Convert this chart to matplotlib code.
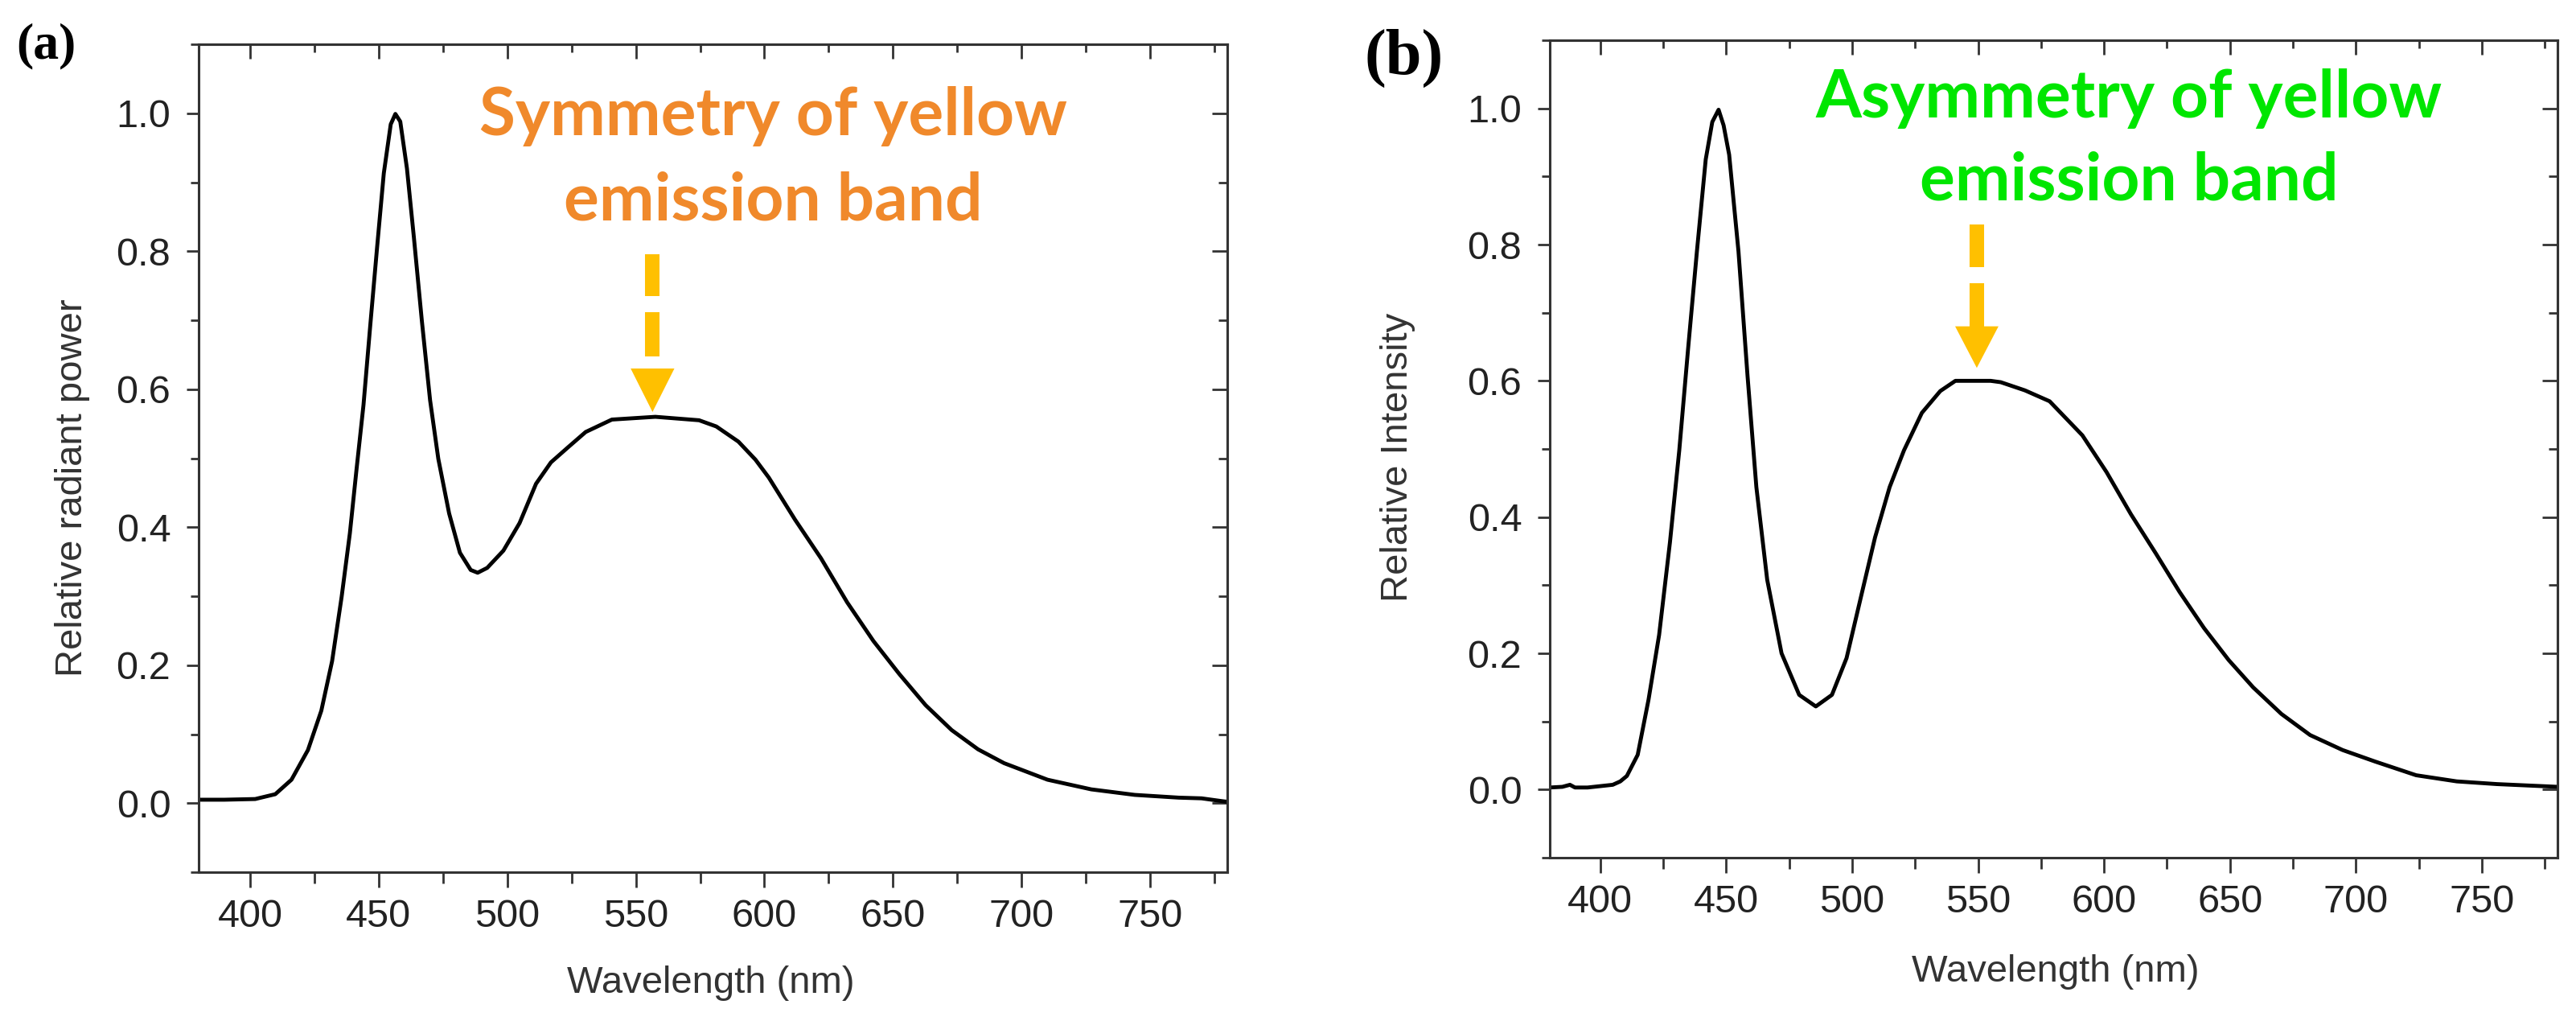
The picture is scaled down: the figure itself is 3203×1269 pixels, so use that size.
import numpy as np
import matplotlib
matplotlib.use("Agg")
import matplotlib.pyplot as plt
from matplotlib.ticker import MultipleLocator, FormatStrFormatter

# panel (a): spectrum
wl_a = [380, 390, 402, 409.8, 416.1, 422.5, 427.7, 431.9, 435.6, 438.8, 441.4, 444.1,
        446.7, 449.4, 452, 454.7, 456.5, 458.4, 461, 463.7, 466.8, 470, 473.2, 477.4,
        481.6, 485.8, 488.5, 492.2, 498.5, 504.8, 511.2, 517, 523.7, 530.5, 540.7,
        557.6, 574.6, 581.3, 589.9, 596.5, 601.7, 611.9, 622, 632.2, 642.4, 652.5,
        662.7, 672.8, 683.1, 693.2, 710.1, 727.1, 744, 761.1, 770, 777.8, 780]
rp_a = [0.005, 0.005, 0.006, 0.013, 0.034, 0.077, 0.134, 0.206, 0.299, 0.391, 0.484,
        0.577, 0.691, 0.806, 0.913, 0.984, 0.999, 0.988, 0.92, 0.82, 0.699, 0.584,
        0.499, 0.42, 0.363, 0.338, 0.334, 0.341, 0.366, 0.406, 0.463, 0.494, 0.516,
        0.538, 0.556, 0.560, 0.555, 0.546, 0.524, 0.498, 0.472, 0.411, 0.355, 0.291,
        0.235, 0.187, 0.142, 0.106, 0.078, 0.058, 0.034, 0.02, 0.012, 0.008, 0.007,
        0.003, 0.002]

# panel (b)
wl_b = [380, 385, 388, 390, 395, 400, 405, 408, 410.6, 414.9, 419.2, 423.4, 427.7,
        431.4, 434.9, 438.4, 441.9, 444.5, 447, 449, 451.2, 454.9, 458.5, 462, 466.3,
        472, 479, 485.6, 492, 497.8, 503.4, 509.1, 514.9, 520.6, 527.7, 535, 541, 548,
        555, 559, 568.6, 578.4, 591.4, 601, 610.7, 620.5, 630, 639.7, 649.5, 659.2,
        670.4, 681.8, 694.7, 707.7, 723.9, 740, 756, 780]
ri_b = [0.003, 0.004, 0.007, 0.003, 0.003, 0.005, 0.007, 0.012, 0.02, 0.051, 0.132,
        0.227, 0.363, 0.498, 0.647, 0.79, 0.925, 0.98, 0.998, 0.975, 0.932, 0.79,
        0.607, 0.444, 0.308, 0.2, 0.139, 0.122, 0.139, 0.193, 0.281, 0.37, 0.444,
        0.498, 0.553, 0.585, 0.6, 0.6, 0.6, 0.598, 0.586, 0.57, 0.52, 0.466, 0.404,
        0.347, 0.29, 0.237, 0.19, 0.15, 0.111, 0.08, 0.058, 0.041, 0.021, 0.012,
        0.008, 0.004]

labels_a = ["Symmetry of yellow", "emission band"]
labels_b = ["Asymmetry of yellow", "emission band"]

plt.rcParams['font.family'] = ['Liberation Sans', 'DejaVu Sans']

W, H = 3203, 1269
fig = plt.figure(figsize=(W / 100, H / 100), dpi=100)


def px_axes(l, t, r, b):
    return fig.add_axes([l / W, 1 - b / H, (r - l) / W, (b - t) / H])


def style(ax):
    ax.set_xlim(380, 780)
    ax.set_ylim(-0.1, 1.1)
    ax.xaxis.set_major_locator(MultipleLocator(50))
    ax.xaxis.set_minor_locator(MultipleLocator(25))
    ax.yaxis.set_major_locator(MultipleLocator(0.2))
    ax.yaxis.set_minor_locator(MultipleLocator(0.1))
    ax.yaxis.set_major_formatter(FormatStrFormatter('%.1f'))
    ax.tick_params(which='both', direction='out', width=2, colors='#333333',
                   labelcolor='#222222', labelsize=35)
    ax.tick_params(axis='x', which='major', length=14, pad=10)
    ax.tick_params(axis='x', which='minor', length=10)
    ax.tick_params(axis='y', which='major', length=11, pad=14)
    ax.tick_params(axis='y', which='minor', length=7)
    for s in ax.spines.values():
        s.set_linewidth(2.2)
        s.set_color('#333333')
    top = ax.secondary_xaxis('top')
    top.xaxis.set_major_locator(MultipleLocator(50))
    top.xaxis.set_minor_locator(MultipleLocator(25))
    top.tick_params(which='both', direction='in', width=2, colors='#333333',
                    labeltop=False)
    top.tick_params(which='major', length=13)
    top.tick_params(which='minor', length=7)
    top.spines['top'].set_linewidth(2.2)
    right = ax.secondary_yaxis('right')
    right.yaxis.set_major_locator(MultipleLocator(0.2))
    right.yaxis.set_minor_locator(MultipleLocator(0.1))
    right.tick_params(which='both', direction='in', width=2, colors='#333333',
                      labelright=False)
    right.tick_params(which='major', length=14)
    right.tick_params(which='minor', length=8)
    right.spines['right'].set_linewidth(2.2)


def arrow(ax, x, segs, head, hw, color='#FFC000'):
    for y0, y1 in segs:
        ax.plot([x, x], [y0, y1], color=color, lw=13, solid_capstyle='butt')
    ax.fill([x - hw, x + hw, x], [head[0], head[0], head[1]], color=color, lw=0)


txt_kw = dict(family=['Lato', 'DejaVu Sans'], weight='bold', size=59,
              ha='center', va='baseline')

# (a)
ax1 = px_axes(247, 55, 1526, 1084)
ax1.plot(wl_a, rp_a, color='black', lw=3.5)
style(ax1)
ax1.text(603.5, 0.968, labels_a[0], color='#F0892B', **txt_kw)
ax1.text(603.5, 0.845, labels_a[1], color='#F0892B', **txt_kw)
arrow(ax1, 556.5, [(0.796, 0.735), (0.712, 0.648)], (0.630, 0.567), 8.5)

# (b)
ax2 = px_axes(1927, 50, 3180, 1066)
ax2.plot(wl_b, ri_b, color='black', lw=3.5)
style(ax2)
ax2.text(610, 0.987, labels_b[0], color='#00E600', **txt_kw)
ax2.text(610, 0.866, labels_b[1], color='#00E600', **txt_kw)
arrow(ax2, 549.5, [(0.830, 0.767), (0.743, 0.680)], (0.680, 0.619), 8.6)

# axis labels
lab_kw = dict(size=34, color='#333333')
fig.text(884 / W, 1 - 1234 / H, 'Wavelength (nm)', ha='center', va='baseline', **lab_kw)
fig.text(2556 / W, 1 - 1220 / H, 'Wavelength (nm)', ha='center', va='baseline', **lab_kw)
fig.text(90 / W, 1 - 606 / H, 'Relative radiant power', rotation=90,
         ha='center', va='center', **lab_kw)
fig.text(1738 / W, 1 - 568 / H, 'Relative Intensity', rotation=90,
         ha='center', va='center', **lab_kw)

# panel letters
fig.text(20 / W, 1 - 28 / H, '(a)', family=['Liberation Serif'], weight='bold',
         size=46, va='top', ha='left')
fig.text(1697 / W, 1 - 36 / H, '(b)', family=['Liberation Serif'], weight='bold',
         size=58, va='top', ha='left')

fig.savefig('out.png', dpi=100)
